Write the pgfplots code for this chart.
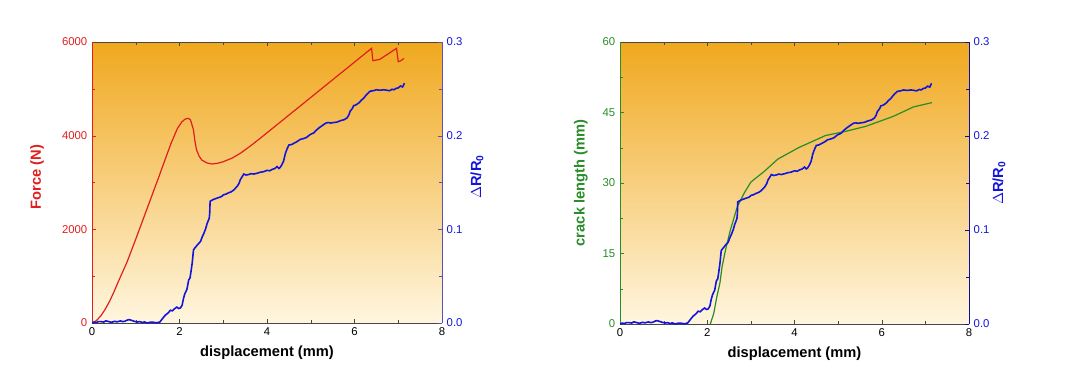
\documentclass[border=0pt]{standalone}
\usepackage{fontspec}
\setmainfont{Liberation Sans}
\usepackage{pgfplots}
\usepackage{pgfplotstable}
\pgfplotsset{compat=1.18}
\definecolor{bgtop}{RGB}{240,168,30}
\definecolor{bgbot}{RGB}{255,246,224}
\definecolor{fred}{RGB}{225,30,30}
\definecolor{rblue}{RGB}{20,20,220}
\definecolor{rspine}{RGB}{90,80,190}
\definecolor{cgreen}{RGB}{40,140,40}
\definecolor{axgray}{RGB}{70,70,70}

\pgfplotstableread{
x y
0 0
0.05 0.0010
0.10 0.0005
0.15 0.0015
0.20 0.0015
0.27 0.0010
0.31 0.0022
0.35 0.0020
0.40 0.0012
0.45 0.0008
0.52 0.0018
0.57 0.0012
0.65 0.0022
0.70 0.0015
0.75 0.0018
0.80 0.0030
0.84 0.0036
0.88 0.0032
0.92 0.0025
0.97 0.0018
1.03 0.0010
1.09 0.0015
1.15 0.0005
1.20 0.0012
1.26 0.0000
1.33 0.0008
1.40 0.0008
1.47 0.0002
1.55 0.0010
1.60 0.0040
1.64 0.0064
1.68 0.0085
1.72 0.0100
1.76 0.0118
1.79 0.0136
1.84 0.0130
1.88 0.0150
1.94 0.0170
1.98 0.0155
2.02 0.0160
2.06 0.0190
2.09 0.0260
2.12 0.0310
2.17 0.0360
2.21 0.0460
2.24 0.0480
2.26 0.0540
2.29 0.0640
2.32 0.0780
2.35 0.0800
2.42 0.0840
2.48 0.0870
2.52 0.0920
2.56 0.0960
2.60 0.1010
2.63 0.1060
2.68 0.1120
2.69 0.1170
2.70 0.1300
2.74 0.1310
2.78 0.1320
2.84 0.1330
2.90 0.1340
2.96 0.1350
3.01 0.1370
3.06 0.1375
3.12 0.1390
3.18 0.1400
3.24 0.1420
3.28 0.1440
3.32 0.1460
3.36 0.1490
3.39 0.1530
3.43 0.1560
3.47 0.1590
3.52 0.1580
3.58 0.1585
3.64 0.1595
3.70 0.1590
3.78 0.1600
3.85 0.1610
3.92 0.1615
4.00 0.1630
4.06 0.1625
4.12 0.1640
4.18 0.1650
4.23 0.1670
4.27 0.1650
4.30 0.1660
4.34 0.1690
4.38 0.1730
4.42 0.1810
4.46 0.1860
4.50 0.1900
4.56 0.1905
4.62 0.1920
4.68 0.1935
4.76 0.1960
4.84 0.1970
4.90 0.1980
4.98 0.2010
5.07 0.2030
5.12 0.2055
5.18 0.2080
5.24 0.2100
5.30 0.2120
5.35 0.2135
5.40 0.2140
5.46 0.2135
5.52 0.2140
5.60 0.2145
5.68 0.2160
5.76 0.2170
5.83 0.2190
5.87 0.2220
5.90 0.2260
5.95 0.2290
5.98 0.2320
6.04 0.2330
6.10 0.2350
6.16 0.2380
6.21 0.2400
6.26 0.2430
6.30 0.2450
6.36 0.2475
6.43 0.2480
6.50 0.2490
6.58 0.2485
6.67 0.2490
6.74 0.2485
6.80 0.2480
6.86 0.2495
6.90 0.2490
6.95 0.2505
7.00 0.2510
7.05 0.2530
7.10 0.2520
7.12 0.2540
7.14 0.2560
}\bluedata

\begin{document}
\begin{tikzpicture}
\useasboundingbox (0,0) rectangle (804.75pt,291.75pt);
\pgfplotsset{
  every axis/.append style={
    scale only axis,
    anchor=south west,
    /pgf/number format/assume math mode=true,
    tick align=inside,
    major tick length=3pt,
    minor tick length=2pt,
    xmin=0, xmax=8,
    ticklabel style={font=\fontsize{8.5}{10}\selectfont},
    label style={font=\fontsize{11}{13}\selectfont\bfseries},
    xlabel style={at={(axis description cs:0.5,-0.105)},anchor=center},
  },
}
% ---------------- left plot -----------------
\begin{axis}[
  at={(69pt,49.5pt)}, width=262.5pt, height=210.75pt,
  axis background/.style={top color=bgtop, bottom color=bgbot},
  axis x line*=box, axis y line*=left,
  x axis line style={axgray,-}, y axis line style={fred,-},
  xtick={0,2,4,6,8}, minor xtick={1,3,5,7},
  xtick pos=both, xticklabel pos=lower,
  ymin=0, ymax=6000,
  ytick={0,2000,4000,6000}, minor ytick={1000,3000,5000},
  ytick pos=left,
  yticklabel style={fred},
  ytick style={fred}, xtick style={axgray},
  scaled y ticks=false,
  yticklabel={\pgfmathprintnumber[fixed,precision=0,1000 sep={}]{\tick}},
  xlabel={displacement (mm)},
  ylabel={Force (N)},
  ylabel style={fred,at={(axis description cs:-0.157,0.52)},anchor=center,rotate=0},
]
\addplot[fred, line width=0.9pt] coordinates {
(0,0) (0.10,50) (0.20,150) (0.30,290) (0.40,460) (0.50,660) (0.60,880)
(0.80,1300) (1.00,1790) (1.50,3050) (1.80,3820) (1.95,4150) (2.05,4290)
(2.13,4355) (2.20,4370) (2.25,4340) (2.28,4250) (2.32,4120) (2.35,3900)
(2.39,3694) (2.45,3560) (2.51,3480) (2.62,3420) (2.74,3395) (2.87,3410)
(3.00,3444) (3.20,3520) (3.40,3630) (3.60,3765) (3.84,3940) (4.22,4227)
(4.68,4574) (5.21,4974) (5.82,5435) (6.39,5865) (6.42,5600) (6.58,5630)
(6.96,5865) (7.00,5579) (7.06,5600) (7.13,5651)
};
\end{axis}
\begin{axis}[
  at={(69pt,49.5pt)}, width=262.5pt, height=210.75pt,
  axis x line=none, axis y line*=right,
  y axis line style={rspine,-},
  ymin=0, ymax=0.3,
  ytick={0,0.1,0.2,0.3}, minor ytick={0.05,0.15,0.25},
  ytick pos=right, yticklabel pos=right,
  ytick style={rspine},
  yticklabel style={rblue, /pgf/number format/.cd, fixed, fixed zerofill, precision=1},
  scaled y ticks=false,
  ylabel={$\Delta$R/R\textsubscript{0}},
  ylabel style={rblue,at={(axis description cs:1.10,0.52)},anchor=center,rotate=0},
]
\addplot[rblue, line width=1.2pt] table[x=x,y=y] {\bluedata};
\end{axis}
% ---------------- right plot -----------------
\begin{axis}[
  at={(465pt,48.75pt)}, width=261.75pt, height=211.5pt,
  axis background/.style={top color=bgtop, bottom color=bgbot},
  axis x line*=box, axis y line*=left,
  x axis line style={axgray,-}, y axis line style={cgreen,-},
  xtick={0,2,4,6,8}, minor xtick={1,3,5,7},
  xtick pos=both, xticklabel pos=lower,
  ymin=0, ymax=60,
  ytick={0,15,30,45,60}, minor ytick={7.5,22.5,37.5,52.5},
  ytick pos=left,
  yticklabel style={cgreen},
  ytick style={cgreen}, xtick style={axgray},
  xlabel={displacement (mm)},
  ylabel={crack length (mm)},
  ylabel style={cgreen,at={(axis description cs:-0.112,0.5)},anchor=center,rotate=0},
]
\addplot[cgreen, line width=0.9pt] coordinates {
(2.07,0) (2.15,2.3) (2.22,5.8) (2.29,8.7) (2.34,12.2) (2.42,15.8) (2.53,20)
(2.69,25) (2.85,27.9) (3.00,30.2) (3.31,32.5) (3.62,35.1) (4.09,37.5)
(4.71,40.1) (5.18,41.0) (5.65,42.1) (6.27,44.2) (6.73,46.2) (7.15,47.1)
};
\end{axis}
\begin{axis}[
  at={(465pt,48.75pt)}, width=261.75pt, height=211.5pt,
  axis x line=none, axis y line*=right,
  y axis line style={rblue!70!black,-},
  ymin=0, ymax=0.3,
  ytick={0,0.1,0.2,0.3}, minor ytick={0.05,0.15,0.25},
  ytick pos=right, yticklabel pos=right,
  ytick style={rblue!70!black},
  yticklabel style={rblue, /pgf/number format/.cd, fixed, fixed zerofill, precision=1},
  scaled y ticks=false,
  ylabel={$\Delta$R/R\textsubscript{0}},
  ylabel style={rblue,at={(axis description cs:1.086,0.5)},anchor=center,rotate=0},
]
\addplot[rblue, line width=1.2pt] table[x=x,y=y] {\bluedata};
\end{axis}
\end{tikzpicture}
\end{document}
